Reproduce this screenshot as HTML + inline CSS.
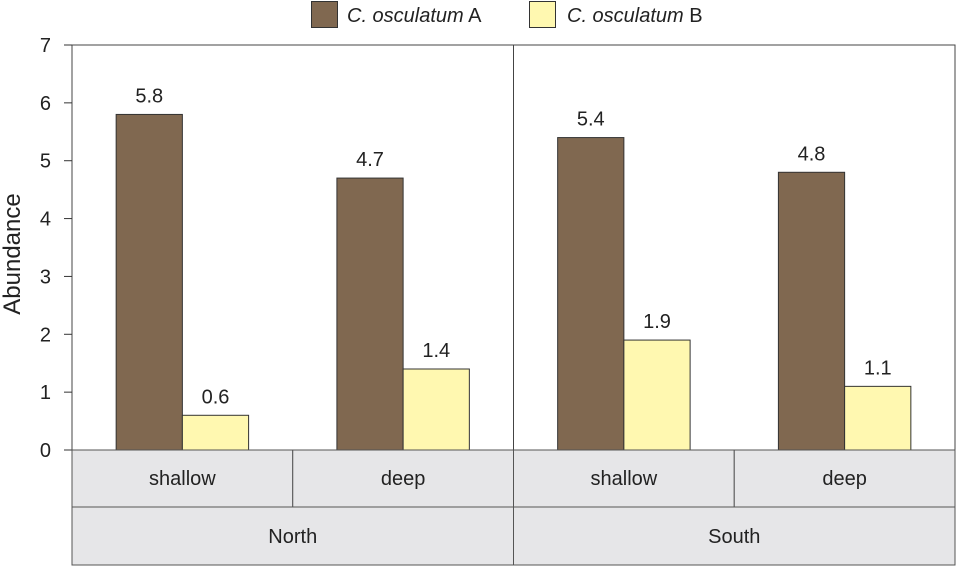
<!DOCTYPE html>
<html><head><meta charset="utf-8"><style>
body{margin:0;background:#fff;}
svg{display:block;font-family:"Liberation Sans",Arial,sans-serif;}
</style></head><body>
<svg id="chart" width="957" height="566">
<g id="legend">
<rect x="311.5" y="1.5" width="26" height="26" fill="#806850" stroke="#333"/>
<text x="347" y="22" font-size="20" fill="#222"><tspan font-style="italic">C. osculatum</tspan> A</text>
<rect x="529.5" y="1.5" width="26" height="26" fill="#fff8b0" stroke="#333"/>
<text x="567" y="22" font-size="20" fill="#222"><tspan font-style="italic">C. osculatum</tspan> B</text>
</g>
<text transform="translate(20,254) rotate(-90)" text-anchor="middle" font-size="24" fill="#222">Abundance</text>
<g id="axes"></g>
<g id="bars"></g>
<g id="table"></g>
</svg>
<script>
const regions = ["North", "South"];
const depths = ["shallow", "deep"];
const seriesA = [5.8, 4.7, 5.4, 4.8];
const seriesB = [0.6, 1.4, 1.9, 1.1];
const yTicks = [0, 1, 2, 3, 4, 5, 6, 7];

const NS = "http://www.w3.org/2000/svg";
const L = 72, R = 955, T = 45, B = 450, yMax = 7;
const y = v => B - v / yMax * (B - T);
const nCat = regions.length * depths.length;
const cw = (R - L) / nCat;
const xc = i => L + cw * i;
function mk(tag, attrs, parent, txt) {
  const e = document.createElementNS(NS, tag);
  for (const k in attrs) e.setAttribute(k, attrs[k]);
  if (txt !== undefined) e.textContent = txt;
  parent.appendChild(e);
  return e;
}
const axes = document.getElementById("axes");
const bars = document.getElementById("bars");
const table = document.getElementById("table");

let f = mk("rect", {x: L, y: T, width: R - L, height: B - T, fill: "none", stroke: "#444", "stroke-width": 1}, axes);


for (let r = 1; r < regions.length; r++) {
  const xx = L + (R - L) / regions.length * r;
  const d = mk("line", {x1: xx, x2: xx, y1: T, y2: B, stroke: "#444"}, axes);
  
  
}
yTicks.forEach(t => {
  const ln = mk("line", {x1: L - 8, x2: L, y1: y(t), y2: y(t), stroke: "#333"}, axes);
  
  
  const tx = mk("text", {x: 51, y: y(t) + 7, "text-anchor": "end", "font-size": 20, fill: "#222"}, axes, t);
  
  
});

const bw = cw * 0.3;
for (let i = 0; i < nCat; i++) {
  const cx = xc(i) + cw / 2;
  [[seriesA, "#806850", cx - bw], [seriesB, "#fff8b0", cx]].forEach(([s, col, bx], k) => {
    const v = s[i];
    const r = mk("rect", {x: bx, y: y(v), width: bw, height: B - y(v), fill: col, stroke: "#333", "stroke-width": 1}, bars);
    
    
    const lb = mk("text", {x: bx + bw / 2, y: y(v) - 12, "text-anchor": "middle", "font-size": 20, fill: "#222"}, bars, v.toFixed(1));
    
    
  });
}

const r1 = 507, r2 = 565;
for (let i = 0; i < nCat; i++) {
  const c = mk("rect", {x: xc(i), y: B, width: cw, height: r1 - B, fill: "#e6e6e8", stroke: "#555"}, table);
  
  
  const t = mk("text", {x: xc(i) + cw / 2, y: 485, "text-anchor": "middle", "font-size": 20, fill: "#222"}, table, depths[i % depths.length]);
  
  
}
const rw = (R - L) / regions.length;
regions.forEach((rg, j) => {
  const c = mk("rect", {x: L + rw * j, y: r1, width: rw, height: r2 - r1, fill: "#e6e6e8", stroke: "#555"}, table);
  
  
  const t = mk("text", {x: L + rw * j + rw / 2, y: 543, "text-anchor": "middle", "font-size": 20, fill: "#222"}, table, rg);
  
  
});
</script>
</body></html>
